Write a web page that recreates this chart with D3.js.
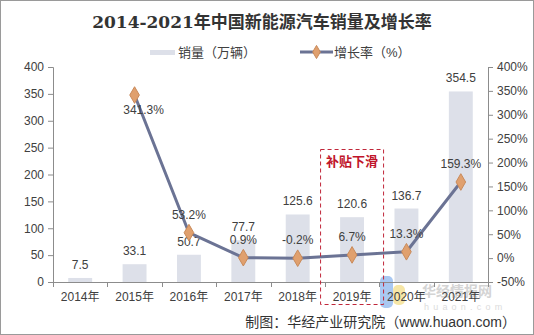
<!DOCTYPE html>
<html><head><meta charset="utf-8">
<script src="https://cdn.jsdelivr.net/npm/d3@7"></script>
<style>
html,body{margin:0;padding:0;background:#fff;}
svg text{font-family:"Liberation Sans","Noto Sans CJK SC",sans-serif;}
</style>
</head><body>
<svg id="c" width="534" height="335"></svg>
<script>
const years = ["2014年","2015年","2016年","2017年","2018年","2019年","2020年","2021年"];
const sales = [7.5, 33.1, 50.7, 77.7, 125.6, 120.6, 136.7, 354.5];
const growth = [null, 341.3, 53.2, 0.9, -0.2, 6.7, 13.3, 159.3];
const leftTicks = [0,50,100,150,200,250,300,350,400];
const rightTicks = [-50,0,50,100,150,200,250,300,350,400];

const svg = d3.select("#c");
const W = 534, H = 335;
svg.append("rect").attr("x",0.5).attr("y",0.5).attr("width",W-1).attr("height",H-1)
  .attr("fill","#fff").attr("stroke","#9a9a9a");

const x0 = 53, x1 = 488, yTop = 67, yBot = 282;
const x = d3.scaleBand().domain(years).range([x0,x1]).paddingInner(0.56).paddingOuter(0.28);
const yL = d3.scaleLinear().domain([0,400]).range([yBot,yTop]);
const yR = d3.scaleLinear().domain([-50,400]).range([yBot,yTop]);
const step = x.step();

// watermark logo (behind everything)
svg.append("rect").attr("x",380).attr("y",276).attr("width",13).attr("height",32).attr("rx",5)
  .attr("fill","#a9c8f2");
svg.append("rect").attr("x",393).attr("y",285).attr("width",12).attr("height",20).attr("rx",5)
  .attr("fill","#f6e6a6");
svg.append("text").attr("x",422).attr("y",296).attr("font-size",14).attr("font-weight","bold")
  .attr("fill","#d4d4d4").text("华经情报网");
svg.append("text").attr("x",424).attr("y",310).attr("font-size",9).attr("letter-spacing",4.2)
  .attr("fill","#dcdcdc").text("huaon.com");

// title
svg.append("text").attr("x",262).attr("y",28).attr("text-anchor","middle")
  .attr("font-size",17).attr("font-weight","bold").attr("fill","#333")
  .style("font-family","'DejaVu Serif','Noto Sans CJK SC',serif")
  .text("2014-2021年中国新能源汽车销量及增长率");

// legend
const lg = svg.append("g");
lg.append("rect").attr("x",150).attr("y",50).attr("width",25).attr("height",5).attr("fill","#dde0e9");
lg.append("text").attr("x",178).attr("y",57).attr("font-size",13).attr("fill","#404040").text("销量（万辆）");
lg.append("line").attr("x1",300).attr("x2",333).attr("y1",52).attr("y2",52).attr("stroke","#6b7394").attr("stroke-width",3);
lg.append("path").attr("d",d3.symbol(d3.symbolDiamond,50)()).attr("transform","translate(316.5,52)")
  .attr("fill","#e0a06e").attr("stroke","#c98a5a");
lg.append("text").attr("x",334).attr("y",57).attr("font-size",13).attr("fill","#404040").text("增长率（%）");

// bars
svg.append("g").selectAll("rect").data(years).join("rect")
  .attr("x",d=>x(d)).attr("width",x.bandwidth())
  .attr("y",(d,i)=>yL(sales[i])).attr("height",(d,i)=>yBot-yL(sales[i]))
  .attr("fill","#dde0e9");

// axes
const axL = svg.append("g").attr("transform",`translate(${x0},0)`)
  .call(d3.axisLeft(yL).tickValues(leftTicks).tickSize(5).tickPadding(4));
const axR = svg.append("g").attr("transform",`translate(${x1},0)`)
  .call(d3.axisRight(yR).tickValues(rightTicks).tickSize(5).tickPadding(4).tickFormat(d=>d+"%"));
[axL,axR].forEach(a=>{
  a.select(".domain").attr("stroke","#8c8c8c");
  a.selectAll(".tick line").attr("stroke","#8c8c8c");
  a.selectAll("text").attr("font-size",12).attr("fill","#404040")
    .style("font-family","'Liberation Sans',sans-serif");
});
// x axis
const gx = svg.append("g");
gx.append("line").attr("x1",x0).attr("x2",x1).attr("y1",yBot+0.5).attr("y2",yBot+0.5).attr("stroke","#8c8c8c");
const bounds = years.map(d=>x(d)-x.paddingInner()*step/2).concat([x1]);
gx.selectAll("line.t").data(bounds).join("line").attr("class","t")
  .attr("x1",d=>Math.round(d)+0.5).attr("x2",d=>Math.round(d)+0.5).attr("y1",yBot).attr("y2",yBot+5).attr("stroke","#8c8c8c");
gx.selectAll("text").data(years).join("text")
  .attr("x",d=>x(d)+x.bandwidth()/2).attr("y",yBot+19).attr("text-anchor","middle")
  .attr("font-size",12).attr("fill","#404040").text(d=>d);

// bar labels
svg.append("g").selectAll("text").data(years).join("text")
  .attr("x",d=>x(d)+x.bandwidth()/2).attr("y",(d,i)=>yL(sales[i])-9)
  .attr("text-anchor","middle").attr("font-size",12).attr("fill","#404040")
  .text((d,i)=>sales[i]);

// line
const pts = years.map((d,i)=>({d, v:growth[i]})).filter(p=>p.v!==null);
const cx = p=>x(p.d)+x.bandwidth()/2;
svg.append("path").datum(pts)
  .attr("d",d3.line().x(cx).y(p=>yR(p.v)))
  .attr("fill","none").attr("stroke","#6b7394").attr("stroke-width",3).attr("stroke-linejoin","round");
svg.append("g").selectAll("path").data(pts).join("path")
  .attr("d",d3.symbol(d3.symbolDiamond,80)())
  .attr("transform",p=>`translate(${cx(p)},${yR(p.v)})`)
  .attr("fill","#e0a06e").attr("stroke","#c98a5a");
svg.append("g").selectAll("text").data(pts).join("text")
  .attr("x",p=>cx(p)+(p.v>300?9:0))
  .attr("y",p=>p.v>300? yR(p.v)+19 : yR(p.v)-14)
  .attr("text-anchor","middle").attr("font-size",12).attr("fill","#404040")
  .text(p=>p.v.toFixed(1)+"%");

// dashed box around 2019
const bx = x("2019年")+x.bandwidth()/2;
svg.append("rect").attr("x",bx-31.5).attr("y",149.5).attr("width",63).attr("height",155)
  .attr("fill","none").attr("stroke","#c0273a").attr("stroke-dasharray","4,3");
svg.append("text").attr("x",bx).attr("y",166).attr("text-anchor","middle")
  .attr("font-size",13).attr("font-weight","bold").attr("fill","#c0142a").text("补贴下滑");

// source
svg.append("text").attr("x",516).attr("y",327).attr("text-anchor","end")
  .attr("font-size",14).attr("fill","#333").text("制图：华经产业研究院（www.huaon.com）");
</script>
</body></html>
